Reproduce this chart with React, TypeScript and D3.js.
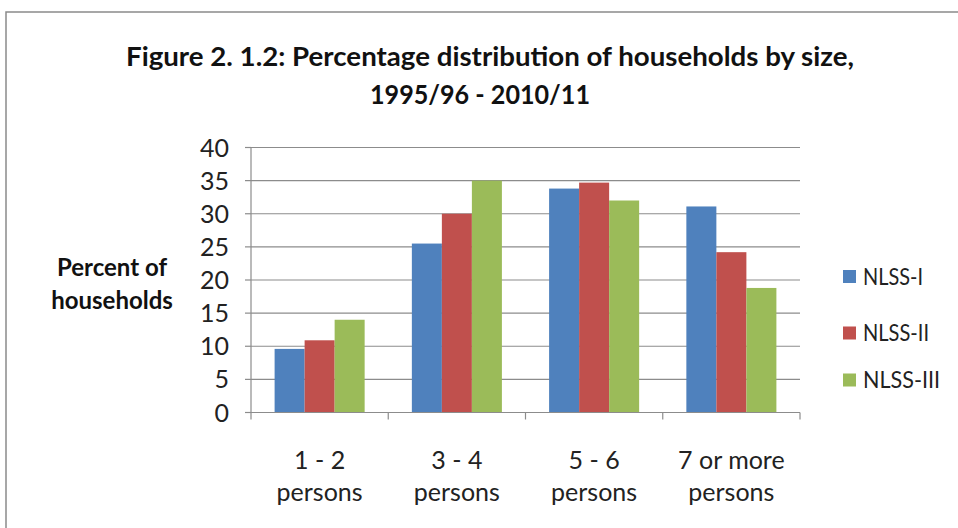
import React from "react";
import * as d3 from "d3";

const categories = ["1 - 2|persons", "3 - 4|persons", "5 - 6|persons", "7 or more|persons"];
const seriesNames = ["NLSS-I", "NLSS-II", "NLSS-III"];
const nlss1 = [9.6, 25.5, 33.8, 31.1];
const nlss2 = [10.9, 30.0, 34.7, 24.2];
const nlss3 = [14.0, 35.0, 32.0, 18.8];
const yTicks = [0, 5, 10, 15, 20, 25, 30, 35, 40];
const colors = ["#4F81BD", "#C0504D", "#9BBB59"];

const W = 958;
const H = 528;
const FONT = "Lato, 'Open Sans', sans-serif";
const LEGEND_ROW_Y = [276.5, 333, 380];

export default function App() {
  const series = [nlss1, nlss2, nlss3];
  const left = 251, right = 800, top = 147.5, bottom = 412.5;
  const x0 = d3.scaleBand<string>().domain(categories).range([left, right]).paddingInner(0.344).paddingOuter(0.172);
  const x1 = d3.scaleBand<string>().domain(seriesNames).range([0, x0.bandwidth()]);
  const y = d3.scaleLinear().domain([0, 40]).range([bottom, top]);
  const catEdges = d3.range(categories.length + 1).map((i) => left + (i * (right - left)) / categories.length);

  return (
    <svg width={W} height={H} style={{ position: "absolute", left: 0, top: 0, background: "#fff" }}>
      <rect x={0} y={0} width={W} height={H} fill="#fff" />
      <rect x={6} y={12} width={W + 10} height={H + 10} fill="#fff" stroke="#8a8a8a" strokeWidth={1.5} />
      <text x={490} y={66} textAnchor="middle" fontFamily={FONT} fontWeight={700} fontSize={27} fill="#111" textLength={728} lengthAdjust="spacingAndGlyphs">
        Figure 2. 1.2: Percentage distribution of households by size,
      </text>
      <text x={480} y={104} textAnchor="middle" fontFamily={FONT} fontWeight={700} fontSize={27} fill="#111" textLength={220} lengthAdjust="spacingAndGlyphs">
        1995/96 - 2010/11
      </text>
      {yTicks.map((t) => (
        <g key={t}>
          <line x1={left} x2={right} y1={y(t)} y2={y(t)} stroke="#8c8c8c" strokeWidth={1.2} />
          <line x1={left - 6} x2={left} y1={y(t)} y2={y(t)} stroke="#8c8c8c" strokeWidth={1.2} />
          <text x={229} y={y(t)} dy="0.36em" textAnchor="end" fontFamily={FONT} fontSize={25} fill="#222">
            {t}
          </text>
        </g>
      ))}
      <line x1={left} x2={left} y1={top} y2={bottom} stroke="#8c8c8c" strokeWidth={1.2} />
      {catEdges.map((e, i) => (
        <line key={i} x1={e} x2={e} y1={bottom} y2={bottom + 7} stroke="#8c8c8c" strokeWidth={1.2} />
      ))}
      {categories.map((c, ci) => (
        <g key={c}>
          {series.map((s, si) => (
            <rect
              key={si}
              x={(x0(c) ?? 0) + (x1(seriesNames[si]) ?? 0)}
              y={y(s[ci])}
              width={x1.bandwidth()}
              height={y(0) - y(s[ci])}
              fill={colors[si]}
            />
          ))}
          {c.split("|").map((ln, li) => (
            <text key={li} x={(x0(c) ?? 0) + x0.bandwidth() / 2} y={469 + li * 32} textAnchor="middle" fontFamily={FONT} fontSize={25} fill="#222">
              {ln}
            </text>
          ))}
        </g>
      ))}
      <line x1={left} x2={right} y1={bottom} y2={bottom} stroke="#8c8c8c" strokeWidth={1.2} />
      <text x={112} y={276} textAnchor="middle" fontFamily={FONT} fontWeight={700} fontSize={24} fill="#111">
        Percent of
      </text>
      <text x={112} y={309} textAnchor="middle" fontFamily={FONT} fontWeight={700} fontSize={24} fill="#111">
        households
      </text>
      {seriesNames.map((n, i) => {
        const cy = LEGEND_ROW_Y[i];
        return (
          <g key={n}>
            <rect x={843} y={cy - 6.5} width={13} height={13} fill={colors[i]} />
            <text x={863} y={cy} dy="0.36em" fontFamily={FONT} fontSize={23} fill="#222" textLength={[60, 66, 77][i]} lengthAdjust="spacingAndGlyphs">
              {n}
            </text>
          </g>
        );
      })}
    </svg>
  );
}
